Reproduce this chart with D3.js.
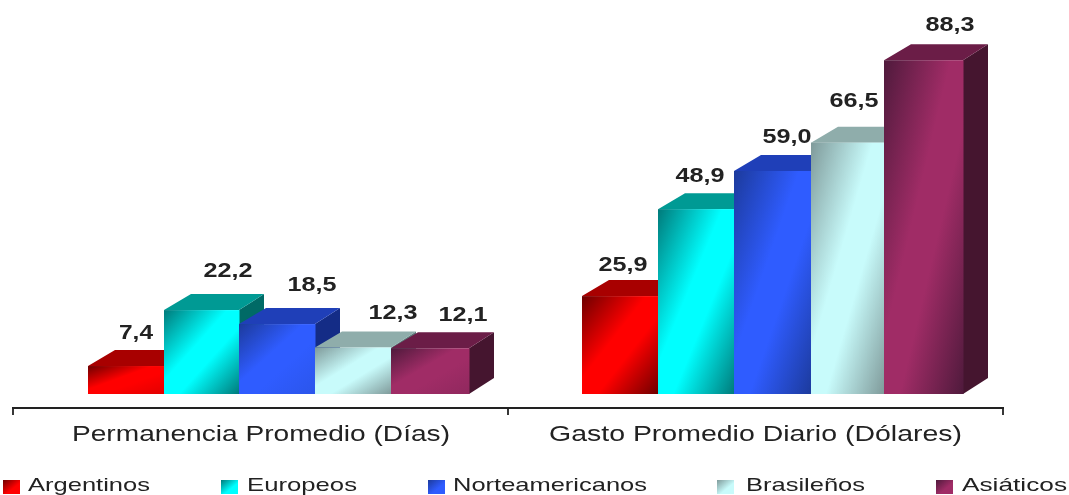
<!DOCTYPE html>
<html><head><meta charset="utf-8">
<script src="https://cdn.jsdelivr.net/npm/d3@7"></script>
<style>html,body{margin:0;background:#fff;overflow:hidden}svg{display:block;filter:blur(0.5px)}text{font-family:"Liberation Sans",Arial,sans-serif}</style>
</head><body><svg id="c" width="1069" height="495"></svg>
<script>
const categories = ["Permanencia Promedio (Días)", "Gasto Promedio Diario (Dólares)"];
const seriesNames = ["Argentinos", "Europeos", "Norteamericanos", "Brasileños", "Asiáticos"];
const permanencia = [7.4, 22.2, 18.5, 12.3, 12.1];
const gasto = [25.9, 48.9, 59.0, 66.5, 88.3];
const groups = [permanencia, gasto];
const frontDark = ["#6e0000", "#007a7a", "#1c3a9c", "#7f9a9a", "#4f1a3c"];
const frontLight = ["#ff0000", "#00ffff", "#2f5cff", "#c8fbfb", "#a02c66"];
const topColor = ["#a80000", "#009a94", "#1f3fb8", "#8fadab", "#6b1d47"];
const sideColor = ["#6a0000", "#006a66", "#142c86", "#5f7c7c", "#45152f"];

const svg = d3.select("#c");
const defs = svg.append("defs");
const x0 = d3.scaleBand().domain(categories).range([13, 1003]);
const y = d3.scaleLinear().domain([0, 100]).range([394, 16]);
const edgeDomain = [...seriesNames, "end"];
const barEdge = [
  d3.scaleOrdinal(edgeDomain, [88, 164, 239, 315, 391, 469]),
  d3.scaleOrdinal(edgeDomain, [582, 658, 734, 811, 884, 963])
];
const dx = 25, dy = -16;

function grad(id, c, g) {
  const lg = defs.append("linearGradient").attr("id", id).attr("x1", 0).attr("y1", 0).attr("x2", 1).attr("y2", 1);
  const softEnd = g === 0 && c !== 1 && c !== 3;
  lg.append("stop").attr("offset", 0).attr("stop-color", frontDark[c]);
  lg.append("stop").attr("offset", .42).attr("stop-color", frontLight[c]);
  lg.append("stop").attr("offset", .6).attr("stop-color", frontLight[c]);
  lg.append("stop").attr("offset", 1).attr("stop-color", softEnd ? d3.interpolateRgb(frontDark[c], frontLight[c])(.8) : frontDark[c]);
}

groups.forEach((vals, g) => {
  const bar = svg.append("g").selectAll("g").data(vals).join("g");
  bar.each(function (v, i) {
    const s = d3.select(this), xx = barEdge[g](seriesNames[i]), x2 = barEdge[g](edgeDomain[i + 1]), t = y(v), b = y(0), id = `f${g}${i}`;
    grad(id, i, g);
    s.append("path").attr("fill", sideColor[i])
      .attr("d", d3.line()([[x2, t], [x2 + dx, t + dy], [x2 + dx, b + dy], [x2, b]]));
    s.append("path").attr("fill", topColor[i])
      .attr("d", d3.line()([[xx, t], [xx + dx + 2, t + dy], [x2 + dx, t + dy], [x2, t]]));
    s.append("rect").attr("x", xx).attr("y", t).attr("width", x2 - xx + .5).attr("height", b - t).attr("fill", `url(#${id})`);
  });
});

// value labels
const labelOff = [[[48, -27], [64, -33], [73, -33], [78, -28.5], [72, -27]],
                  [[41, -25], [42, -27], [53, -28], [43, -36], [66, -29]]];
groups.forEach((vals, g) => {
  svg.append("g").selectAll("text").data(vals).join("text")
    .attr("x", (v, i) => barEdge[g](seriesNames[i]) + labelOff[g][i][0])
    .attr("y", (v, i) => y(v) + labelOff[g][i][1])
    .attr("text-anchor", "middle").attr("font-size", 20).attr("font-weight", 700)
    .attr("fill", "#222")
    .attr("textLength", v => v < 10 ? 34 : 49).attr("lengthAdjust", "spacingAndGlyphs")
    .text(v => v.toFixed(1).replace(".", ","));
});

// axis
const axis = svg.append("g").attr("stroke", "#222").attr("stroke-width", 1.8).attr("fill", "none");
axis.append("path").attr("d", "M12,408H1004");
x0.domain().concat("end").forEach((d, i) => {
  const t = i < 2 ? x0(d) : x0(categories[1]) + x0.bandwidth();
  axis.append("path").attr("d", `M${t},408V415`);
});
const catWidth = [378, 413];
const catCenter = [261, 755.5];
svg.append("g").selectAll("text").data(categories).join("text")
  .attr("x", (d, i) => catCenter[i]).attr("y", 441)
  .attr("text-anchor", "middle").attr("font-size", 22).attr("fill", "#222")
  .attr("textLength", (d, i) => catWidth[i]).attr("lengthAdjust", "spacingAndGlyphs").text(d => d);

// legend
const legendX = [3, 221, 428, 717, 936];
const legendTextW = [122, 110, 194, 119, 105];
const legend = svg.append("g").selectAll("g").data(seriesNames).join("g")
  .attr("transform", (d, i) => `translate(${legendX[i]},0)`);
legend.each(function (d, i) {
  const id = `l${i}`;
  const lg = defs.append("linearGradient").attr("id", id).attr("x1", 0).attr("y1", 0).attr("x2", 1).attr("y2", 1);
  lg.append("stop").attr("offset", 0).attr("stop-color", frontDark[i]);
  lg.append("stop").attr("offset", .6).attr("stop-color", frontLight[i]);
  d3.select(this).append("rect").attr("y", 480).attr("width", 17).attr("height", 14).attr("fill", `url(#${id})`);
});
legend.append("text").attr("x", (d, i) => [25, 26, 25, 29, 26][i]).attr("y", 490.5).attr("font-size", 19).attr("fill", "#222")
  .attr("textLength", (d, i) => legendTextW[i]).attr("lengthAdjust", "spacingAndGlyphs").text(d => d);
</script></body></html>
